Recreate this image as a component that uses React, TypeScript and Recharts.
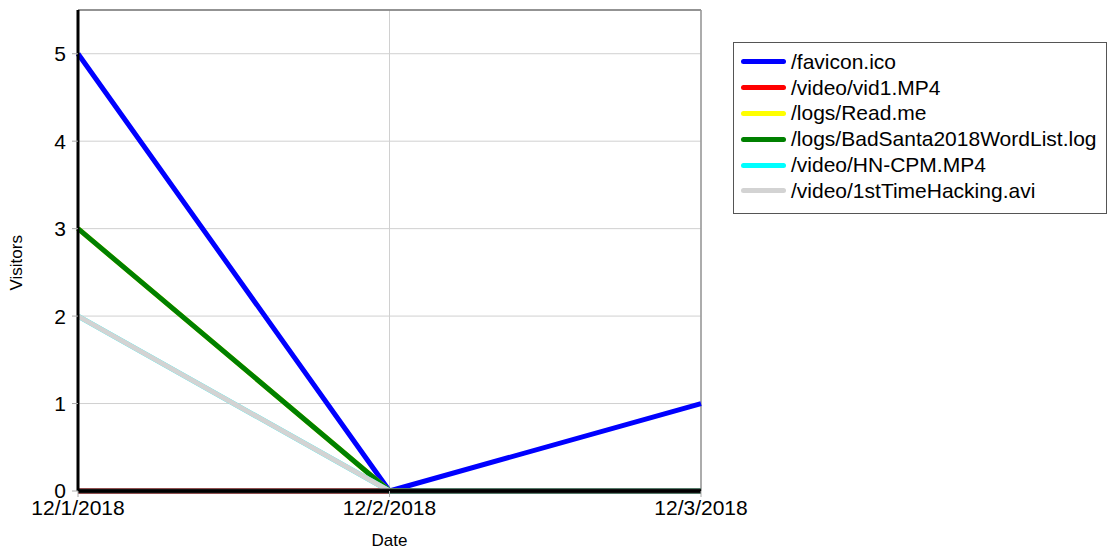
import React from 'react';
import { LineChart, Line, XAxis, YAxis, CartesianGrid, ReferenceLine } from 'recharts';

const dates = ['12/1/2018', '12/2/2018', '12/3/2018'];
const favicon = [5, 0, 1];
const vid1 = [0, 0, 0];
const readMe = [3, 0, 0];
const badSanta = [3, 0, 0];
const hnCpm = [2, 0, 0];
const firstTimeHacking = [2, 0, 0];
const yTicks = [0, 1, 2, 3, 4, 5];

const series = [
  { key: 'favicon', name: '/favicon.ico', values: favicon, color: '#0000ff' },
  { key: 'vid1', name: '/video/vid1.MP4', values: vid1, color: '#ff0000' },
  { key: 'readMe', name: '/logs/Read.me', values: readMe, color: '#ffff00' },
  { key: 'badSanta', name: '/logs/BadSanta2018WordList.log', values: badSanta, color: '#008000' },
  { key: 'hnCpm', name: '/video/HN-CPM.MP4', values: hnCpm, color: '#00ffff' },
  { key: 'firstTime', name: '/video/1stTimeHacking.avi', values: firstTimeHacking, color: '#d3d3d3' },
];

const chartData = dates.map((date, i) => {
  const row: Record<string, string | number> = { date };
  series.forEach((s) => {
    row[s.key] = s.values[i];
  });
  return row;
});

const FONT = '"Liberation Sans", Arial, sans-serif';

// legend is drawn as an overlay so it doesn't eat into the plot area
const LegendBox = () => (
  <div
    style={{
      position: 'absolute',
      left: 733,
      top: 42,
      width: 374,
      height: 172,
      boxSizing: 'border-box',
      border: '1px solid #555',
      background: '#fff',
      padding: '6px 0 0 7px',
      fontFamily: FONT,
      fontSize: 21,
      color: '#000',
    }}
  >
    {series.map((s) => (
      <div key={s.key} style={{ display: 'flex', alignItems: 'center', height: 25.8, whiteSpace: 'nowrap' }}>
        <div style={{ width: 45, height: 5, borderRadius: 3, background: s.color, marginRight: 5 }} />
        <span>{s.name}</span>
      </div>
    ))}
  </div>
);

export default function App() {
  return (
    <div style={{ position: 'absolute', left: 0, top: 0, width: 1110, height: 552, background: '#fff' }}>
      <LineChart width={1110} height={552} data={chartData} margin={{ top: 10, right: 409, left: 0, bottom: 0 }}>
        <CartesianGrid stroke="#d0d0d0" strokeWidth={1} />
        <XAxis
          dataKey="date"
          stroke="#000"
          strokeWidth={3}
          tickLine={{ stroke: '#aaa', strokeWidth: 1 }}
          tickSize={6}
          tickMargin={3}
          tick={{ fontSize: 21, fill: '#000', fontFamily: FONT }}
          height={61}
          interval={0}
          label={{ value: 'Date', position: 'insideBottom', offset: 6, fontSize: 17, fill: '#000', fontFamily: FONT }}
        />
        <YAxis
          domain={[0, 5.5]}
          ticks={yTicks}
          stroke="#000"
          strokeWidth={3}
          tickLine={{ stroke: '#aaa', strokeWidth: 1 }}
          tickSize={6}
          tickMargin={6}
          tick={{ fontSize: 21, fill: '#000', fontFamily: FONT }}
          width={78}
          label={{ value: 'Visitors', angle: -90, position: 'insideLeft', offset: 16, dy: 40, fontSize: 17, fill: '#000', fontFamily: FONT }}
        />
        <ReferenceLine y={5.5} stroke="#777" strokeWidth={1.5} />
        <ReferenceLine x="12/3/2018" stroke="#999" strokeWidth={1.5} />
        {series.map((s) => (
          <Line
            key={s.key}
            type="linear"
            dataKey={s.key}
            name={s.name}
            stroke={s.color}
            strokeWidth={5}
            dot={false}
            activeDot={false}
            isAnimationActive={false}
          />
        ))}
        <ReferenceLine y={0} stroke="#222" strokeWidth={5} />
      </LineChart>
      <LegendBox />
    </div>
  );
}
